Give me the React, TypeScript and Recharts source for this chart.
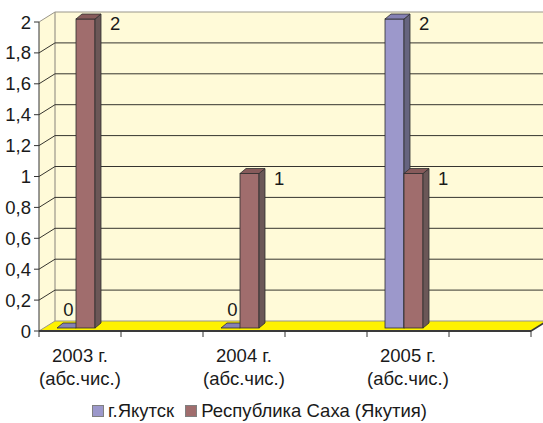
import React from 'react';
import { BarChart, Bar, XAxis, YAxis, CartesianGrid, Legend, LabelList } from 'recharts';

// categories (blank slots keep the gaps between years)
const categories = ['2003 г.|(абс.чис.)', '', '2004 г.|(абс.чис.)', '', '2005 г.|(абс.чис.)', ''];
const yakutsk = [0, null, 0, null, 2, null];
const sakha = [2, null, 1, null, 1, null];
const yTicks = [0, 0.2, 0.4, 0.6, 0.8, 1, 1.2, 1.4, 1.6, 1.8, 2];
const seriesNames = ['г.Якутск', 'Республика Саха (Якутия)'];

const data = categories.map((name, i) => ({ name, yakutsk: yakutsk[i], sakha: sakha[i] }));

const FONT = '"Liberation Sans", Arial, sans-serif';
const FS = 18.5;
const WALL = '#FFFAD8';
const FLOOR = '#FFF200';
const EDGE = '#9a968a';

// depth of the walls / floor
const DX = 16;
const DY = 10;
// bar placement inside the depth, and bar thickness
const SHIFT_X = -4;
const SHIFT_Y = -3;
const BDX = 6;
const BDY = 5;

const COLORS = {
  yakutsk: { front: '#9C98CB', top: '#8581B4', side: '#66647F' },
  sakha: { front: '#A06D6D', top: '#875B5B', side: '#6B5757' },
};

const make3DBar = (c: { front: string; top: string; side: string }) => (props: any) => {
  const { x, y, width, height, value } = props;
  if (value == null || x == null) return null;
  const x0 = x + SHIFT_X;
  const y0 = y + SHIFT_Y;
  const w = width;
  const h = Math.max(height || 0, 0);
  const stroke = '#2e2e2e';
  return (
    <g>
      {h > 0 && <rect x={x0} y={y0} width={w} height={h} fill={c.front} stroke={stroke} strokeWidth={0.8} />}
      {h > 0 && (
        <polygon
          points={`${x0 + w},${y0} ${x0 + w + BDX},${y0 - BDY} ${x0 + w + BDX},${y0 + h - BDY} ${x0 + w},${y0 + h}`}
          fill={c.side}
          stroke={stroke}
          strokeWidth={0.8}
        />
      )}
      <polygon
        points={`${x0},${y0} ${x0 + w},${y0} ${x0 + w + BDX},${y0 - BDY} ${x0 + BDX},${y0 - BDY}`}
        fill={c.top}
        stroke={stroke}
        strokeWidth={0.8}
      />
    </g>
  );
};

const renderValueLabel = (props: any) => {
  const vb = props.viewBox && props.viewBox.x != null ? props.viewBox : props;
  const { value } = props;
  if (value == null || vb.x == null) return null;
  const left = Number(vb.x) + SHIFT_X;
  const w = Number(vb.width);
  const top = Number(vb.y) + SHIFT_Y;
  const common = { fontFamily: FONT, fontSize: FS, fill: '#1a1a1a' };
  if (Number(value) === 0) {
    return (
      <text x={left + w / 2 + 2} y={top - 12} textAnchor="middle" {...common}>
        {value}
      </text>
    );
  }
  return (
    <text x={left + w + BDX + 9} y={top + 11} textAnchor="start" {...common}>
      {value}
    </text>
  );
};

// grid lines run along the left wall and back wall; the first one also paints the walls and floor
const renderGridLine = (props: any) => {
  const { x1, x2, y1, index } = props;
  const px = props.x ?? x1;
  const pw = props.width ?? x2 - x1;
  const ptop = props.y;
  const pbottom = props.y + props.height;
  const far = pw + px + 60;
  const isTop = Math.abs(y1 - ptop) < 0.5;
  const isBottom = Math.abs(y1 - pbottom) < 0.5;
  const lineColor = isTop || isBottom ? EDGE : '#36342e';
  return (
    <g key={`grid-${index}`}>
      {index === 0 && (
        <g>
          <polygon
            points={`${px},${ptop} ${px + DX},${ptop - DY} ${px + DX},${pbottom - DY} ${px},${pbottom}`}
            fill={WALL}
          />
          <rect x={px + DX} y={ptop - DY} width={far} height={pbottom - ptop} fill={WALL} />
          <polygon
            points={`${px},${pbottom} ${px + pw},${pbottom} ${px + pw + DX},${pbottom - DY} ${px + DX},${pbottom - DY}`}
            fill={FLOOR}
          />
          <line x1={px + DX} y1={ptop - DY} x2={px + DX} y2={pbottom - DY} stroke={EDGE} strokeWidth={1.2} />
          <line x1={px + pw} y1={pbottom} x2={px + pw + DX} y2={pbottom - DY} stroke="#3a3a3a" strokeWidth={1.5} />
        </g>
      )}
      <polyline
        points={`${px},${y1} ${px + DX},${y1 - DY} ${far},${y1 - DY}`}
        fill="none"
        stroke={lineColor}
        strokeWidth={1}
      />
    </g>
  );
};

const CategoryTick = (props: any) => {
  const { x, y, payload, index } = props;
  const i = payload?.index ?? index ?? 0;
  const half = payload?.offset ?? 41;
  const label = String(categories[i] ?? '');
  const lines = label ? label.split('|') : [];
  return (
    <g>
      <line x1={x - half} y1={y} x2={x - half} y2={y + 6} stroke="#333" strokeWidth={1} />
      {i === categories.length - 1 && (
        <line x1={x + half} y1={y} x2={x + half} y2={y + 6} stroke="#333" strokeWidth={1} />
      )}
      {lines.map((ln, k) => (
        <text
          key={k}
          x={x}
          y={y + 31 + k * 23}
          textAnchor="middle"
          fontFamily={FONT}
          fontSize={FS}
          fill="#1a1a1a"
        >
          {ln}
        </text>
      ))}
    </g>
  );
};

const LegendBox = () => (
  <div
    style={{
      display: 'flex',
      alignItems: 'center',
      paddingLeft: 92,
      height: 20,
      fontFamily: FONT,
      fontSize: FS,
      color: '#1a1a1a',
      whiteSpace: 'nowrap',
    }}
  >
    {seriesNames.map((name, i) => (
      <div key={name} style={{ display: 'flex', alignItems: 'center', marginRight: 11 }}>
        <span
          style={{
            display: 'inline-block',
            width: 10,
            height: 10,
            border: '1px solid #808080',
            background: i === 0 ? COLORS.yakutsk.front : COLORS.sakha.front,
            marginRight: 4,
          }}
        />
        <span>{name}</span>
      </div>
    ))}
  </div>
);

export default function App() {
  return (
    <div style={{ position: 'absolute', left: 0, top: 0, width: 543, height: 423, background: '#fff' }}>
      <BarChart
        width={543}
        height={423}
        data={data}
        margin={{ top: 22, right: 12, bottom: 0, left: 0 }}
        barGap={0}
      >
        <CartesianGrid vertical={false} horizontal={renderGridLine} />
        <XAxis
          dataKey="name"
          interval={0}
          height={92}
          tickLine={false}
          tickSize={0}
          tickMargin={0}
          axisLine={{ stroke: '#3a3a3a', strokeWidth: 2 }}
          tick={<CategoryTick />}
        />
        <YAxis
          width={39}
          domain={[0, 2]}
          ticks={yTicks}
          interval={0}
          tickSize={5}
          tickMargin={3}
          axisLine={{ stroke: '#333' }}
          tickLine={{ stroke: '#333' }}
          tick={{ fontFamily: FONT, fontSize: FS, fill: '#1a1a1a' }}
          tickFormatter={(v: number) => String(v).replace('.', ',')}
        />
        <Legend
          layout="horizontal"
          verticalAlign="middle"
          align="center"
          wrapperStyle={{ top: 401, left: 0, width: 543 }}
          content={<LegendBox />}
        />
        <Bar dataKey="yakutsk" name={seriesNames[0]} fill={COLORS.yakutsk.front} barSize={19} isAnimationActive={false} shape={make3DBar(COLORS.yakutsk)}>
          <LabelList dataKey="yakutsk" content={renderValueLabel} />
        </Bar>
        <Bar dataKey="sakha" name={seriesNames[1]} fill={COLORS.sakha.front} barSize={19} isAnimationActive={false} shape={make3DBar(COLORS.sakha)}>
          <LabelList dataKey="sakha" content={renderValueLabel} />
        </Bar>
      </BarChart>
    </div>
  );
}
